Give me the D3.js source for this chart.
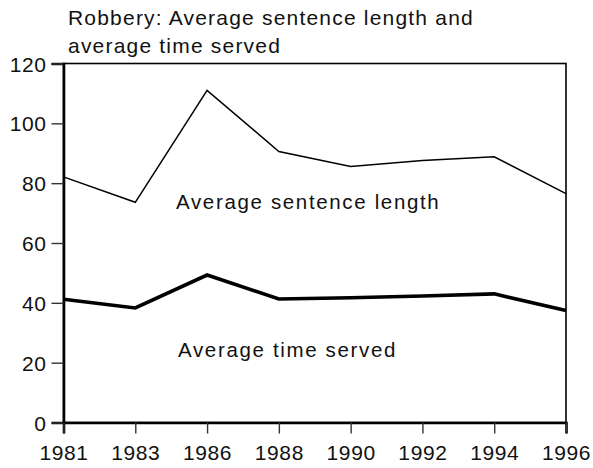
<!DOCTYPE html>
<html><head><meta charset="utf-8">
<script src="https://cdn.jsdelivr.net/npm/d3@7"></script>
<style>body{margin:0;background:#fff}svg{display:block}text{font-family:"Liberation Sans",Arial,sans-serif;fill:#111}</style>
</head><body><svg id="c" width="593" height="468"></svg>
<script>
const years = ["1981","1983","1986","1988","1990","1992","1994","1996"];
const sentenceLength = [82.1, 73.6, 111, 90.6, 85.6, 87.6, 88.8, 76.5];
const timeServed = [41.2, 38.3, 49.3, 41.3, 41.7, 42.3, 43.0, 37.4];
const yTicks = [0, 20, 40, 60, 80, 100, 120];
const titleLines = ["Robbery: Average sentence length and", "average time served"];

const svg = d3.select("#c");
const L = 63.5, R = 566, T = 63.5, B = 422.5;
const x = d3.scalePoint().domain(years).range([L, R]);
const y = d3.scaleLinear().domain([0, 120]).range([B, T]);

svg.append("rect").attr("x", L).attr("y", T).attr("width", R - L).attr("height", B - T)
  .attr("fill", "none").attr("stroke", "#000").attr("stroke-width", 1.6);

const ya = svg.append("g").attr("transform", `translate(${L},0)`)
  .call(d3.axisLeft(y).tickValues(yTicks).tickSize(12).tickPadding(5));
const xa = svg.append("g").attr("transform", `translate(0,${B})`)
  .call(d3.axisBottom(x).tickSize(11).tickPadding(6));
[ya, xa].forEach(g => {
  g.select(".domain").attr("stroke", "#000").attr("stroke-width", 2.6);
  g.selectAll(".tick line").attr("stroke", "#333").attr("stroke-width", 1.4);
  g.selectAll(".tick text").attr("font-size", 21).attr("fill", "#111")
    .attr("letter-spacing", 0.6)
    .attr("font-family", "'Liberation Sans',Arial,sans-serif");
});
ya.selectAll(".tick text").attr("dy", "0.36em");
xa.selectAll(".tick text").attr("y", 37).attr("dy", 0);

const line = d3.line().x((d, i) => x(years[i])).y(d => y(d));
svg.append("path").datum(sentenceLength).attr("d", line)
  .attr("fill", "none").attr("stroke", "#000").attr("stroke-width", 1.5);
svg.append("path").datum(timeServed).attr("d", line)
  .attr("fill", "none").attr("stroke", "#000").attr("stroke-width", 3.6);

svg.append("text").attr("x", 176).attr("y", 209).attr("font-size", 20.5)
  .attr("letter-spacing", 1.65).text("Average sentence length");
svg.append("text").attr("x", 178).attr("y", 357).attr("font-size", 20.5)
  .attr("letter-spacing", 1.65).text("Average time served");

titleLines.forEach((t, i) => {
  svg.append("text").attr("x", 68).attr("y", 25 + i * 28).attr("font-size", 21)
    .attr("letter-spacing", 1.2).text(t);
});
</script></body></html>
